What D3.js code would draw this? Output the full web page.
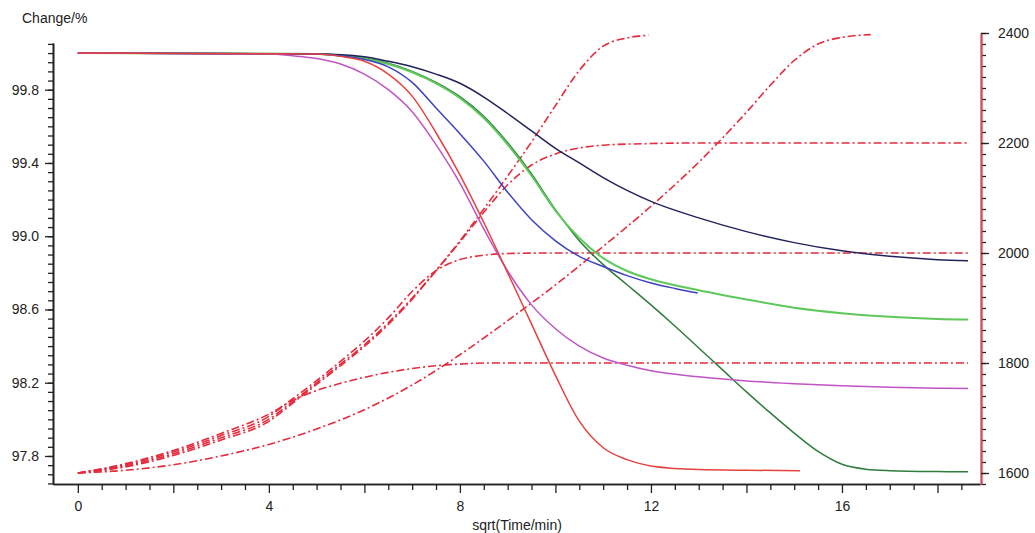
<!DOCTYPE html>
<html>
<head>
<meta charset="utf-8">
<script src="https://cdn.jsdelivr.net/npm/d3@7"></script>
<style>
  html, body { margin: 0; padding: 0; background: #fff; }
  svg { display: block; }
  text { font-family: "Liberation Sans", Arial, sans-serif; }
</style>
</head>
<body>
<svg id="chart" width="1035" height="533"></svg>
<script>
// ---- Data: Change/% (left axis), solid lines; pairs are [sqrt(time), change]
const navyLine = [[0,100],[5,99.995],[6,99.98],[6.5,99.955],[7,99.925],[7.5,99.885],[8,99.835],[8.5,99.76],[9,99.67],[9.5,99.575],[10,99.48],[10.5,99.40],[11,99.32],[11.5,99.25],[12,99.19],[13,99.10],[14,99.025],[15,98.965],[16,98.92],[17,98.89],[18,98.872],[18.64,98.866]];
const blueLine = [[0,100],[5,99.995],[5.5,99.985],[6,99.965],[6.5,99.925],[7,99.84],[7.5,99.70],[8,99.56],[8.5,99.41],[9,99.24],[9.5,99.09],[10,98.975],[10.5,98.89],[11,98.835],[11.5,98.785],[12,98.745],[12.5,98.715],[12.98,98.69]];
const lightGreenLine = [[0,100],[5,99.995],[5.5,99.985],[6,99.97],[6.5,99.94],[7,99.895],[7.5,99.835],[8,99.755],[8.5,99.645],[9,99.50],[9.5,99.33],[10,99.14],[10.5,98.99],[11,98.88],[11.5,98.81],[12,98.765],[13,98.705],[14,98.655],[15,98.61],[16,98.58],[17,98.56],[18,98.548],[18.64,98.545]];
const darkGreenLine = [[0,100],[5,99.996],[5.5,99.988],[6,99.973],[6.5,99.945],[7,99.90],[7.5,99.84],[8,99.762],[8.5,99.655],[9,99.51],[9.5,99.34],[10,99.145],[10.5,98.975],[11,98.845],[11.5,98.735],[12,98.625],[12.5,98.51],[13,98.39],[13.5,98.27],[14,98.15],[14.5,98.035],[15,97.925],[15.5,97.825],[16,97.755],[16.5,97.728],[17,97.72],[18,97.715],[18.64,97.714]];
const magentaLine = [[0,100],[4,99.995],[4.5,99.985],[5,99.97],[5.5,99.94],[6,99.885],[6.5,99.80],[7,99.68],[7.5,99.50],[8,99.29],[8.5,99.04],[9,98.81],[9.5,98.625],[10,98.495],[10.5,98.40],[11,98.335],[11.5,98.295],[12,98.265],[13,98.232],[14,98.21],[15,98.195],[16,98.183],[17,98.175],[18,98.17],[18.64,98.168]];
const redLine = [[0,100],[5,99.995],[5.5,99.982],[6,99.955],[6.5,99.885],[7,99.765],[7.5,99.565],[8,99.335],[8.5,99.075],[9,98.80],[9.5,98.52],[10,98.24],[10.5,97.99],[11,97.845],[11.5,97.78],[12,97.745],[12.5,97.732],[13,97.726],[14,97.722],[15.12,97.72]];

// ---- Data: right axis (1600-2400), dash-dot lines
const rightA = [[0,1600],[1,1611],[2,1632],[3,1660],[4,1694],[4.5,1727],[5,1761],[5.5,1795],[6,1830],[6.5,1870],[7,1916],[7.5,1968],[8,2022],[8.5,2080],[9,2140],[9.5,2202],[10,2268],[10.5,2332],[11,2376],[11.5,2391],[11.95,2396]];
const rightB = [[0,1600],[1,1613],[2,1635],[3,1664],[4,1698],[4.5,1730],[5,1764],[5.5,1798],[6,1833],[6.5,1873],[7,1918],[7.5,1968],[8,2020],[8.5,2074],[9,2124],[9.5,2160],[10,2180],[10.5,2191],[11,2196],[12,2199],[13,2200],[18.64,2200]];
const rightC = [[0,1600],[1,1615],[2,1638],[3,1668],[4,1703],[4.5,1735],[5,1768],[5.5,1803],[6,1840],[6.5,1882],[7,1930],[7.5,1968],[8,1988],[8.5,1996],[9,1999],[10,2000],[18.64,2000]];
const rightD = [[0,1600],[1,1617],[2,1641],[3,1672],[4,1707],[4.5,1732],[5,1750],[5.5,1763],[6,1774],[6.5,1783],[7,1790],[7.5,1795],[8,1798],[8.5,1800],[18.64,1800]];
const rightE = [[0,1600],[1,1605],[2,1615],[3,1631],[4,1652],[5,1680],[6,1715],[7,1760],[8,1815],[9,1877],[10,1942],[11,2012],[12,2085],[13,2165],[14,2256],[14.5,2305],[15,2350],[15.5,2380],[16,2392],[16.6,2397]];

// ---- Tick labels
const xTickLabels = [0, 4, 8, 12, 16];
const leftTickLabels = [97.8, 98.2, 98.6, 99.0, 99.4, 99.8];
const rightTickLabels = [1600, 1800, 2000, 2200, 2400];

const svg = d3.select("#chart");
const x = d3.scaleLinear().domain([-0.52, 18.89]).range([53, 980]);
const yL = d3.scaleLinear().domain([97.647, 100.055]).range([484, 43]);
const yR = d3.scaleLinear().domain([1580, 2400]).range([484, 33]);

const lineL = d3.line().x(d => x(d[0])).y(d => yL(d[1])).curve(d3.curveMonotoneX);
const lineR = d3.line().x(d => x(d[0])).y(d => yR(d[1])).curve(d3.curveMonotoneX);

// dash-dot series
[rightA, rightB, rightC, rightD, rightE].forEach(s => {
  svg.append("path").attr("d", lineR(s))
    .attr("fill", "none").attr("stroke", "#e62a3c")
    .attr("stroke-width", 1.6).attr("stroke-dasharray", "8,3,2,3");
});

// solid series
const solid = [
  [darkGreenLine, "#2f7d3e", 1.5],
  [lightGreenLine, "#5fc85a", 2],
  [navyLine, "#22235e", 1.5],
  [blueLine, "#3c42c0", 1.5],
  [magentaLine, "#c054c6", 1.5],
  [redLine, "#e6413f", 1.5]
];
solid.forEach(([s, c, w]) => {
  svg.append("path").attr("d", lineL(s))
    .attr("fill", "none").attr("stroke", c).attr("stroke-width", w);
});

function styleAxis(g, lineColor) {
  g.selectAll("text").attr("font-size", 14).attr("fill", "#222")
    .attr("font-family", "'Liberation Sans', Arial, sans-serif");
  g.selectAll(".tick line").attr("stroke", "#222").attr("stroke-width", 1.3);
  g.select(".domain").attr("stroke", lineColor).attr("stroke-width", 1.6);
}

// bottom axis
const gxMinor = svg.append("g").attr("transform", "translate(0,484)")
  .call(d3.axisBottom(x).tickValues(d3.range(0.5, 18.9, 1).concat(d3.range(1, 18.9, 2))).tickSize(6).tickSizeOuter(0).tickFormat(""));
styleAxis(gxMinor, "#222");
const gx = svg.append("g").attr("transform", "translate(0,484)")
  .call(d3.axisBottom(x).tickValues(d3.range(0, 18.9, 2)).tickSize(9).tickSizeOuter(0).tickPadding(8)
    .tickFormat(d => xTickLabels.includes(d) ? d3.format("d")(d) : ""));
styleAxis(gx, "#222");

// left axis
const gyMinor = svg.append("g").attr("transform", "translate(53,0)")
  .call(d3.axisLeft(yL).tickValues(d3.range(97.65, 100.06, 0.05)).tickSize(5).tickSizeOuter(0).tickFormat(""));
styleAxis(gyMinor, "#222");
const gy = svg.append("g").attr("transform", "translate(53,0)")
  .call(d3.axisLeft(yL).tickValues(leftTickLabels).tickSize(8).tickSizeOuter(0).tickPadding(6).tickFormat(d3.format(".1f")));
styleAxis(gy, "#222");

// right axis
const grMinor = svg.append("g").attr("transform", "translate(981,0)")
  .call(d3.axisRight(yR).tickValues(d3.range(1580, 2401, 20)).tickSize(5).tickSizeOuter(0).tickFormat(""));
styleAxis(grMinor, "#cf4a5a");
const gr = svg.append("g").attr("transform", "translate(981,0)")
  .call(d3.axisRight(yR).tickValues(rightTickLabels).tickSize(8).tickSizeOuter(0).tickPadding(9).tickFormat(d3.format("d")));
styleAxis(gr, "#cf4a5a");
gr.select(".domain").attr("stroke-width", 2);

// titles
svg.append("text").attr("x", 22).attr("y", 23).attr("font-size", 14).attr("fill", "#222").text("Change/%");
svg.append("text").attr("x", 517).attr("y", 530).attr("font-size", 14).attr("fill", "#222")
  .attr("text-anchor", "middle").text("sqrt(Time/min)");
</script>
</body>
</html>
